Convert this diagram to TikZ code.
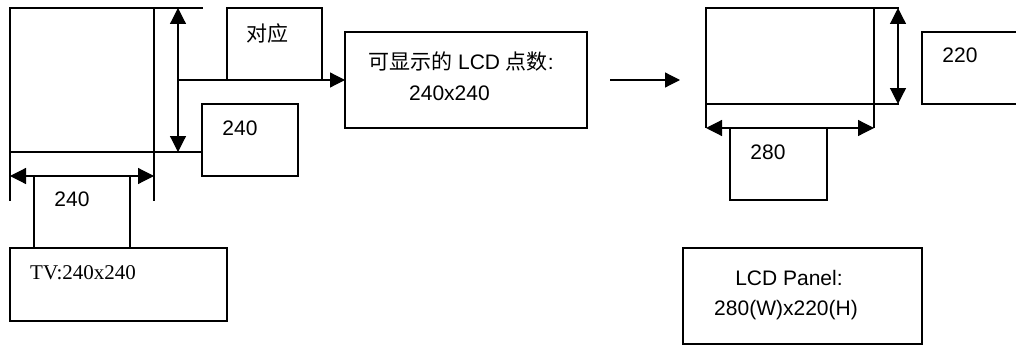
\documentclass[tikz,border=0pt]{standalone}
\usepackage{fontspec}
\setmainfont{Liberation Sans}
\newfontfamily\cjk{Noto Sans CJK SC}
\newfontfamily\tvfont{Liberation Serif}
\usetikzlibrary{arrows.meta}
\begin{document}
\begin{tikzpicture}[x=1pt,y=-1pt,
  box/.style={draw, line width=1.2pt, rectangle, inner sep=0pt, outer sep=0pt, anchor=north west},
  ln/.style={line width=1.2pt},
  dim/.style={line width=1.2pt, {Triangle[length=16pt,width=16pt]}-{Triangle[length=16pt,width=16pt]}},
  arr/.style={line width=1.2pt, -{Triangle[length=15pt,width=15pt]}},
  lab/.style={inner sep=0pt, font=\fontsize{21}{25}\selectfont}]
\useasboundingbox (0,0) rectangle (1016,345);
\clip (0,0) rectangle (1016,345);

% ---------- left: TV picture ----------
\node[box, minimum width=144pt, minimum height=144pt] (tvsq) at (10,8) {};
\coordinate (ltop) at (203,8);
\coordinate (lbl) at (10,201);
\coordinate (lbr) at (154,201);
\coordinate (va1) at (178,8);
\coordinate (va2) at (178,152);
\coordinate (vmid) at (178,80);
\coordinate (ha1) at (10,176);
\coordinate (ha2) at (154,176);

\node[box, minimum width=95pt, minimum height=72pt] (dy) at (227,8) {};
\node[lab] (dyt) at (267,34) {\cjk 对应};

\node[box, minimum width=96pt, minimum height=72pt] (v240) at (202,104) {};
\node[lab] (v240t) at (240,128) {240};

\node[box, minimum width=96pt, minimum height=72pt] (h240) at (34,176) {};
\node[lab] (h240t) at (72,199) {240};

\node[box, minimum width=217pt, minimum height=73pt] (tv) at (10,248) {};
\node[lab, anchor=west] (tvt) at (30,273) {\tvfont TV:240x240};

\draw[ln] (tvsq.north east) -- (ltop);
\draw[ln] (tvsq.south east) -- (tvsq.south east -| v240.west);
\draw[ln] (tvsq.south west) -- (lbl);
\draw[ln] (tvsq.south east) -- (lbr);
\draw[dim] (va1) -- (va2);
\draw[dim] (ha1) -- (ha2);

% ---------- middle ----------
\node[box, minimum width=242pt, minimum height=96pt] (lcd) at (345,32) {};
\node[lab] (lcdt1) at (461,62) {{\cjk 可显示的} LCD {\cjk 点数}:};
\node[lab] (lcdt2) at (449.5,93) {240x240};
\draw[arr] (vmid) -- (lcd.west);

\coordinate (ma1) at (610,80);
\coordinate (ma2) at (680,80);
\draw[arr] (ma1) -- (ma2);

% ---------- right: LCD panel ----------
\node[box, minimum width=168pt, minimum height=96pt] (lsq) at (706,8) {};
\coordinate (rtop) at (899,8);
\coordinate (rbot) at (899,104);
\coordinate (rv1) at (898,8);
\coordinate (rv2) at (898,104);
\coordinate (rbl) at (706,128);
\coordinate (rbr) at (874,128);

\draw[ln] (lsq.north east) -- (rtop);
\draw[ln] (lsq.south east) -- (rbot);
\draw[ln] (lsq.south west) -- (rbl);
\draw[ln] (lsq.south east) -- (rbr);
\draw[dim] (rv1) -- (rv2);
\draw[dim] (rbl) -- (rbr);

\node[box, minimum width=97pt, minimum height=72pt] (b280) at (730,128) {};
\node[lab] (b280t) at (768,152) {280};

\node[box, minimum width=110pt, minimum height=72pt] (b220) at (922,32) {};
\node[lab] (b220t) at (960,55) {220};

\node[box, minimum width=239pt, minimum height=96pt] (panel) at (683,248) {};
\node[lab] (pt1) at (789,278) {LCD Panel:};
\node[lab] (pt2) at (786,310) {280(W)x220(H)};
\end{tikzpicture}
\end{document}
